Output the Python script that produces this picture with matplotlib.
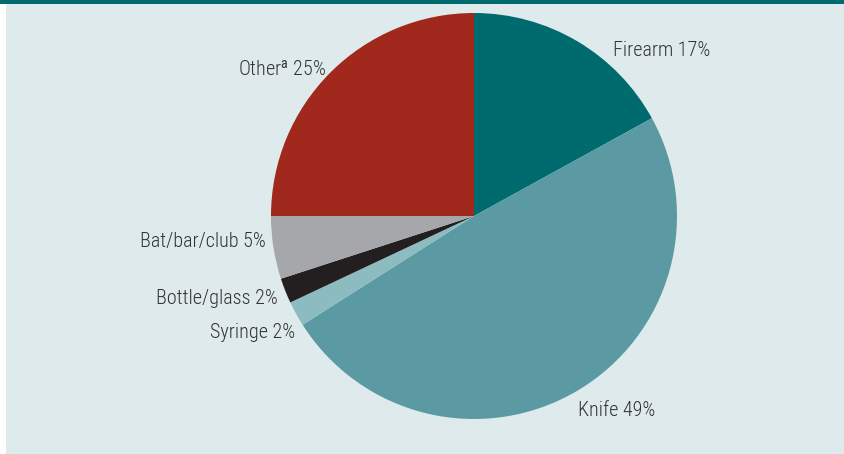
import matplotlib
matplotlib.use("Agg")
import matplotlib.pyplot as plt
from matplotlib.patches import Rectangle
from matplotlib import font_manager

categories = ["Firearm", "Knife", "Syringe", "Bottle/glass", "Bat/bar/club", "Other"]
values = [17, 49, 2, 2, 5, 25]
colors = ["#006b6e", "#5b9aa3", "#8dbcc0", "#231f20", "#a6a7aa", "#a1281c"]

names = {f.name for f in font_manager.fontManager.ttflist}
fam = "Roboto"
fs = 13.5
for cand in ["Liberation Sans Narrow", "Roboto Condensed", "Open Sans Condensed", "Noto Sans Condensed"]:
    if cand in names:
        fam = cand
        fs = 14.5
        break
plt.rcParams["font.family"] = [fam, "DejaVu Sans"]
plt.rcParams["mathtext.fontset"] = "custom"
plt.rcParams["mathtext.rm"] = fam

W, H = 844, 454
bg = "#deeaeb"
fig = plt.figure(figsize=(W / 100, H / 100), dpi=100, facecolor=bg)
fig.patches.append(Rectangle((0, 0), 6 / W, 1, transform=fig.transFigure, facecolor="white", edgecolor="none", zorder=0))
fig.patches.append(Rectangle((0, 1 - 3.5 / H), 1, 3.5 / H, transform=fig.transFigure, facecolor="#006b6e", edgecolor="none", zorder=0))

ax = fig.add_axes([0, 0, 1, 1])
ax.pie(values, colors=colors, startangle=90, counterclock=False,
       center=(474, H - 216), radius=203, frame=True,
       wedgeprops=dict(linewidth=0, edgecolor="none"))
ax.set_xlim(0, W)
ax.set_ylim(0, H)
ax.set_aspect("equal")
ax.axis("off")
ax.patch.set_alpha(0)

tc = "#333333"
labels = [f"{c} {v}%" for c, v in zip(categories, values)]
labels[5] = r"Other$^{\mathrm{a}}$ " + f"{values[5]}%"
pos = [(613, 50, "left"), (578, 410, "left"), (295, 333, "right"),
       (278, 298, "right"), (266, 241, "right"), (326, 70, "right")]
for lab, (x, y, ha) in zip(labels, pos):
    ax.text(x, H - y, lab, ha=ha, va="center", fontsize=fs, color=tc, fontweight="light")

fig.savefig("out.png", dpi=100, facecolor=bg)
